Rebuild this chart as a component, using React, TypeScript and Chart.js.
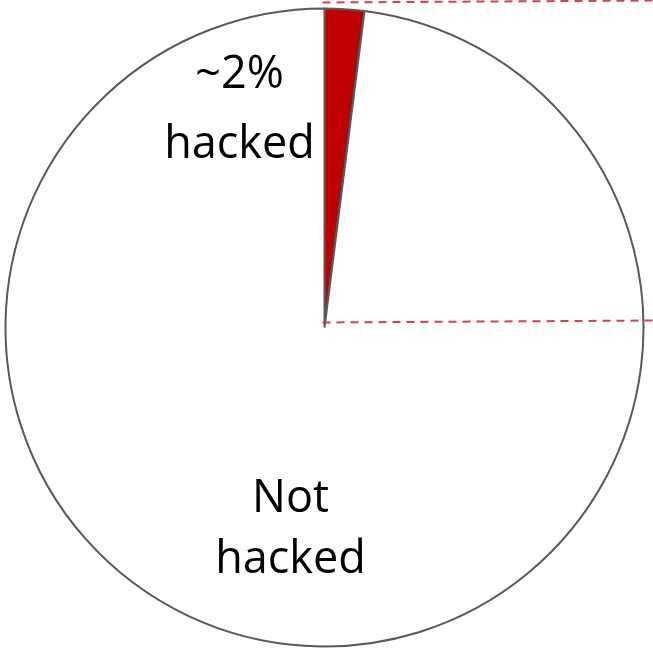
import React, { useEffect, useRef } from "react";
import { Chart, registerables } from "chart.js";

Chart.register(...registerables);

const categories = ["~2% hacked", "Not hacked"];
const values = [2, 98];
const sliceColors = ["#c00000", "#ffffff"];
const labelLines = [
  ["~2%", "hacked"],
  ["Not", "hacked"],
];

const overlayPlugin = {
  id: "overlay",
  afterDraw(chart: any) {
    const arc = chart.getDatasetMeta(0).data[0];
    if (!arc) return;
    const { x: cx, y: cy, outerRadius: r } = arc.getProps(["x", "y", "outerRadius"], true);
    const ctx = chart.ctx;
    const W = chart.width;
    ctx.save();
    // dashed connector lines
    ctx.strokeStyle = "rgba(214,40,55,0.9)";
    ctx.lineWidth = 2;
    ctx.setLineDash([8, 6]);
    ctx.beginPath();
    ctx.moveTo(cx - 2, cy - r - 6);
    ctx.lineTo(W, cy - r - 8);
    ctx.stroke();
    ctx.beginPath();
    ctx.moveTo(cx - 2, cy - 5);
    ctx.lineTo(W, cy - 7);
    ctx.stroke();
    ctx.setLineDash([]);
    // labels
    ctx.fillStyle = "#000";
    ctx.font = "45px 'Open Sans', sans-serif";
    ctx.textAlign = "center";
    ctx.textBaseline = "alphabetic";
    const pos = [
      { dx: -85, base: [88 - 327.5, 158 - 327.5] },
      { dx: -34, base: [512 - 327.5, 573 - 327.5] },
    ];
    labelLines.forEach((lines, i) => {
      lines.forEach((t, j) => {
        ctx.fillText(t, cx + pos[i].dx, cy + pos[i].base[j]);
      });
    });
    ctx.restore();
  },
};

export default function App() {
  const ref = useRef<HTMLCanvasElement>(null);
  useEffect(() => {
    const chart = new Chart(ref.current!, {
      type: "pie",
      data: {
        labels: categories,
        datasets: [
          {
            data: values,
            backgroundColor: sliceColors,
            borderColor: "#595959",
            borderWidth: 2,
          },
        ],
      },
      options: {
        animation: false,
        responsive: true,
        maintainAspectRatio: false,
        layout: { padding: { left: 4.5, right: 8.5, top: 7.5, bottom: 2.5 } },
        plugins: {
          legend: { display: false },
          tooltip: { enabled: false },
        },
      },
      plugins: [overlayPlugin],
    });
    return () => chart.destroy();
  }, []);
  return (
    <div style={{ position: "fixed", left: 0, top: 0, width: 653, height: 650, background: "#fff" }}>
      <canvas ref={ref} />
    </div>
  );
}
